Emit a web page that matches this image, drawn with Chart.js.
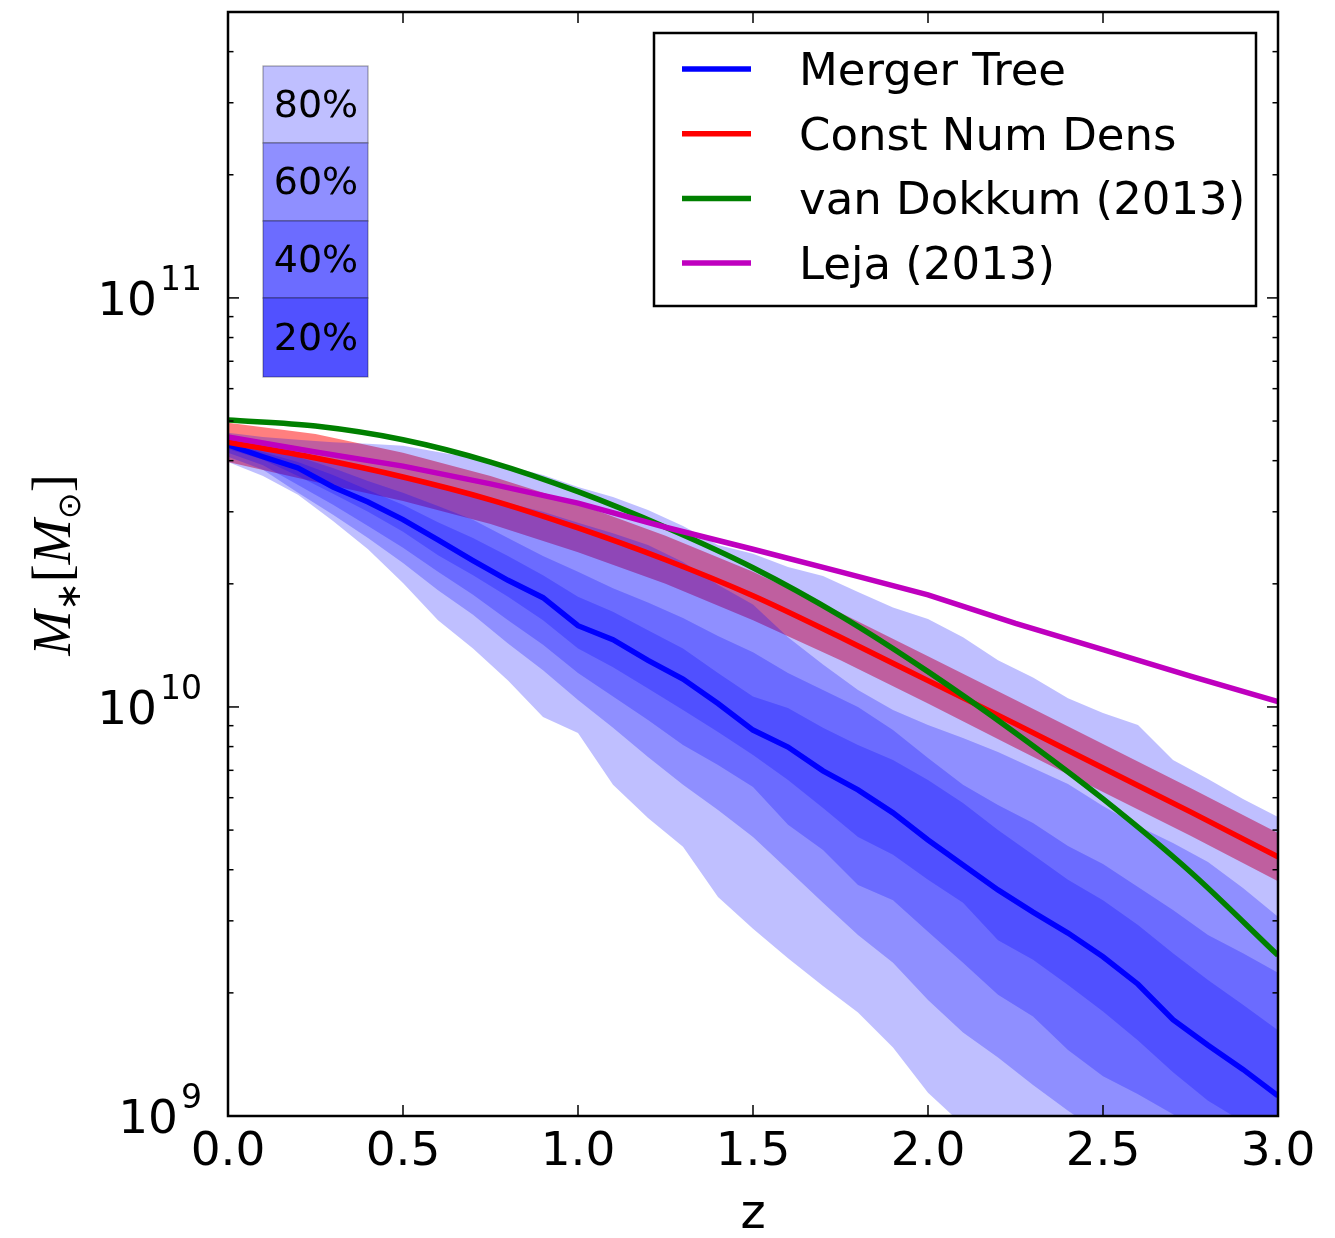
<!DOCTYPE html>
<html>
<head>
<meta charset="utf-8">
<title>Stellar mass growth of progenitors</title>
<script src="https://cdn.jsdelivr.net/npm/chart.js@4.4.0/dist/chart.umd.min.js"></script>
<style>
  html, body { margin: 0; padding: 0; background: #fff; }
  canvas { display: block; }
</style>
</head>
<body>
<canvas id="chart" width="1335" height="1238"></canvas>
<script>
// all masses in units of 1e10 Msun
const zBand = [0.0, 0.1, 0.2, 0.3, 0.4, 0.5, 0.6, 0.7, 0.8, 0.9, 1.0, 1.1, 1.2, 1.3, 1.4, 1.5,
               1.6, 1.7, 1.8, 1.9, 2.0, 2.1, 2.2, 2.3, 2.4, 2.5, 2.6, 2.7, 2.8, 2.9, 3.0];
const zLine = [0.0, 0.25, 0.5, 0.75, 1.0, 1.25, 1.5, 1.75, 2.0, 2.25, 2.5, 2.75, 3.0];

// merger tree percentiles (on zBand)
const p90 = [4.68, 4.57, 4.50, 4.44, 4.40, 4.35, 4.20, 4.06, 3.88, 3.69, 3.45, 3.26, 3.03, 2.77, 2.49, 2.37,
             2.20, 2.09, 1.91, 1.75, 1.64, 1.48, 1.30, 1.18, 1.05, 0.967, 0.904, 0.742, 0.667, 0.596, 0.538];
const p80 = [4.60, 4.40, 4.20, 4.00, 3.80, 3.63, 3.45, 3.32, 3.15, 3.00, 2.82, 2.66, 2.49, 2.26, 1.99, 1.78,
             1.48, 1.27, 1.10, 0.983, 0.904, 0.840, 0.776, 0.709, 0.648, 0.573, 0.512, 0.465, 0.418, 0.361, 0.307];
const p70 = [4.52, 4.30, 4.09, 3.84, 3.57, 3.34, 3.10, 2.87, 2.59, 2.34, 2.14, 1.95, 1.80, 1.65, 1.49, 1.36,
             1.21, 1.10, 1.00, 0.878, 0.750, 0.645, 0.576, 0.520, 0.457, 0.413, 0.363, 0.319, 0.277, 0.250, 0.224];
const p60 = [4.44, 4.20, 3.97, 3.69, 3.39, 3.12, 2.83, 2.59, 2.34, 2.10, 1.86, 1.71, 1.54, 1.39, 1.21, 1.06,
             0.994, 0.889, 0.807, 0.742, 0.663, 0.582, 0.500, 0.435, 0.378, 0.337, 0.293, 0.250, 0.215, 0.187, 0.162];
const median = [4.37, 4.09, 3.84, 3.45, 3.17, 2.87, 2.56, 2.28, 2.04, 1.85, 1.58, 1.46, 1.30, 1.17, 1.02, 0.878,
                0.798, 0.698, 0.627, 0.551, 0.473, 0.411, 0.357, 0.315, 0.280, 0.245, 0.210, 0.172, 0.149, 0.130, 0.112];
const p40 = [4.27, 4.02, 3.67, 3.32, 3.00, 2.68, 2.35, 2.10, 1.86, 1.63, 1.39, 1.25, 1.11, 0.983, 0.869, 0.763,
             0.663, 0.566, 0.481, 0.435, 0.378, 0.332, 0.269, 0.241, 0.209, 0.180, 0.153, 0.128, 0.109, 0.0967, 0.0849];
const p30 = [4.18, 3.90, 3.49, 3.12, 2.77, 2.45, 2.14, 1.88, 1.63, 1.42, 1.21, 1.06, 0.929, 0.807, 0.721, 0.637,
             0.515, 0.447, 0.367, 0.337, 0.282, 0.237, 0.198, 0.175, 0.145, 0.125, 0.113, 0.101, 0.0874, 0.0759, 0.0659];
const p20 = [4.09, 3.80, 3.34, 2.95, 2.59, 2.25, 1.93, 1.68, 1.43, 1.23, 1.04, 0.889, 0.755, 0.645, 0.560, 0.481,
             0.400, 0.332, 0.277, 0.237, 0.192, 0.160, 0.139, 0.119, 0.103, 0.0899, 0.0781, 0.0678, 0.0589, 0.0512, 0.0444];
const p10 = [3.97, 3.67, 3.30, 2.85, 2.43, 2.01, 1.63, 1.39, 1.16, 0.945, 0.864, 0.645, 0.535, 0.455, 0.343, 0.287,
             0.243, 0.208, 0.179, 0.147, 0.114, 0.0950, 0.0781, 0.0641, 0.0526, 0.0432, 0.0355, 0.0291, 0.0239, 0.0197, 0.0161];

// other curves (on zLine)
const constNumDens = [4.44, 4.06, 3.65, 3.21, 2.74, 2.29, 1.87, 1.48, 1.16, 0.909, 0.709, 0.554, 0.430];
const constHigh    = [4.95, 4.65, 4.18, 3.67, 3.14, 2.62, 2.14, 1.70, 1.33, 1.04, 0.812, 0.634, 0.492];
const constLow     = [3.97, 3.55, 3.19, 2.80, 2.39, 2.00, 1.63, 1.30, 1.02, 0.794, 0.620, 0.484, 0.375];
const vanDokkum    = [5.03, 4.86, 4.50, 3.97, 3.36, 2.75, 2.19, 1.67, 1.22, 0.864, 0.596, 0.395, 0.247];
const leja         = [4.57, 4.20, 3.88, 3.51, 3.15, 2.75, 2.43, 2.14, 1.88, 1.60, 1.38, 1.19, 1.03];

const xTicks = [0.0, 0.5, 1.0, 1.5, 2.0, 2.5, 3.0];
const yTickExp = [9, 10, 11];
const legendLabels = ['Merger Tree', 'Const Num Dens', 'van Dokkum (2013)', 'Leja (2013)'];
const legendColors = ['#0000ff', '#ff0000', '#008000', '#bf00bf'];
const bandLabels = ['80%', '60%', '40%', '20%'];

const pts = (zs, vals) => zs.map((z, i) => ({ x: z, y: vals[i] * 1e10 }));
const bandFill = 'rgba(0,0,255,0.25)';

function lineSet(label, zs, vals, color, smooth) {
  return {
    label: label, data: pts(zs, vals), borderColor: color, borderWidth: 5.5,
    pointRadius: 0, fill: false, clip: 0,
    cubicInterpolationMode: smooth ? 'monotone' : 'default', tension: 0
  };
}
function edgeSet(zs, vals, fillColor) {
  return {
    data: pts(zs, vals), borderWidth: 0, pointRadius: 0, clip: 0, tension: 0,
    borderColor: 'rgba(0,0,0,0)', backgroundColor: fillColor || 'rgba(0,0,0,0)',
    fill: fillColor ? '+1' : false
  };
}

// dataset 0 is drawn on top
const datasets = [
  lineSet('Leja (2013)', zLine, leja, '#bf00bf', false),
  lineSet('van Dokkum (2013)', zLine, vanDokkum, '#008000', true),
  lineSet('Const Num Dens', zLine, constNumDens, '#ff0000', true),
  lineSet('Merger Tree', zBand, median, '#0000ff', false),
  edgeSet(zBand, p60, bandFill), edgeSet(zBand, p40),
  edgeSet(zBand, p70, bandFill), edgeSet(zBand, p30),
  edgeSet(zBand, p80, bandFill), edgeSet(zBand, p20),
  edgeSet(zBand, p90, bandFill), edgeSet(zBand, p10),
  edgeSet(zLine, constHigh, 'rgba(255,0,0,0.5)'), edgeSet(zLine, constLow)
];

const axesPlugin = {
  id: 'mplAxes',
  afterDraw(chart) {
    const { ctx, chartArea: a, scales: { x, y } } = chart;
    ctx.save();

    // tick marks, pointing inwards on all four sides
    ctx.strokeStyle = '#000';
    ctx.lineWidth = 1.5;
    const seg = (x1, y1, x2, y2) => { ctx.beginPath(); ctx.moveTo(x1, y1); ctx.lineTo(x2, y2); ctx.stroke(); };
    xTicks.forEach(v => {
      const px = x.getPixelForValue(v);
      seg(px, a.bottom, px, a.bottom - 11);
      seg(px, a.top, px, a.top + 11);
    });
    yTickExp.forEach(e => {
      for (let m = 1; m <= 9; m++) {
        const v = m * Math.pow(10, e);
        if (v < y.min || v > y.max) continue;
        const py = y.getPixelForValue(v);
        const len = m === 1 ? 11 : 5.5;
        seg(a.left, py, a.left + len, py);
        seg(a.right, py, a.right - len, py);
      }
    });

    // frame
    ctx.lineWidth = 2.5;
    ctx.strokeRect(a.left, a.top, a.right - a.left, a.bottom - a.top);

    // x tick labels
    ctx.fillStyle = '#000';
    ctx.font = '47px "DejaVu Sans"';
    ctx.textAlign = 'center';
    ctx.textBaseline = 'alphabetic';
    xTicks.forEach(v => ctx.fillText(v.toFixed(1), x.getPixelForValue(v), a.bottom + 49));
    ctx.font = '48px "DejaVu Sans"';
    ctx.fillText('z', (a.left + a.right) / 2, 1228);

    // y tick labels 10^n
    ctx.textAlign = 'right';
    yTickExp.forEach(e => {
      const py = y.getPixelForValue(Math.pow(10, e));
      ctx.font = '33px "DejaVu Sans"';
      const sup = String(e);
      const supW = ctx.measureText(sup).width;
      ctx.fillText(sup, 202, py - 8);
      ctx.font = '47px "DejaVu Sans"';
      ctx.fillText('10', 202 - supW - 3, py + 17);
    });

    // y axis title M_*[M_sun]
    ctx.save();
    ctx.translate(70, 565);
    ctx.rotate(-Math.PI / 2);
    const parts = [
      { t: 'M', f: 'italic 54px "Liberation Serif", "DejaVu Serif"', dy: 0 },
      { t: '\u2217', f: '34px "DejaVu Sans"', dy: 10 },
      { t: '[', f: '54px "Liberation Serif", "DejaVu Serif"', dy: 0 },
      { t: 'M', f: 'italic 54px "Liberation Serif", "DejaVu Serif"', dy: 0 },
      { t: '\u2299', f: '32px "DejaVu Sans"', dy: 10 },
      { t: ']', f: '54px "Liberation Serif", "DejaVu Serif"', dy: 0 }
    ];
    let total = 0;
    parts.forEach(p => { ctx.font = p.f; p.w = ctx.measureText(p.t).width; total += p.w; });
    let cx = -total / 2;
    ctx.textAlign = 'left';
    parts.forEach(p => { ctx.font = p.f; ctx.fillText(p.t, cx, p.dy); cx += p.w; });
    ctx.restore();

    // legend
    ctx.fillStyle = '#fff';
    ctx.fillRect(654, 33, 602, 273);
    ctx.lineWidth = 2.5;
    ctx.strokeStyle = '#000';
    ctx.strokeRect(654, 33, 602, 273);
    ctx.font = '45px "DejaVu Sans"';
    ctx.textAlign = 'left';
    legendLabels.forEach((lab, i) => {
      const ly = 69 + i * 64.7;
      ctx.strokeStyle = legendColors[i];
      ctx.lineWidth = 5.5;
      seg(682, ly, 751, ly);
      ctx.fillStyle = '#000';
      ctx.fillText(lab, 799, ly + 16);
    });

    // percentile key
    const cellTop = [66, 143, 221, 298, 377];
    bandLabels.forEach((lab, i) => {
      const layers = i + 1;
      const c = Math.round(255 * Math.pow(0.75, layers));
      ctx.fillStyle = `rgb(${c},${c},255)`;
      ctx.fillRect(263, cellTop[i], 105, cellTop[i + 1] - cellTop[i]);
      ctx.strokeStyle = 'rgba(0,0,0,0.35)';
      ctx.lineWidth = 1.2;
      ctx.strokeRect(263, cellTop[i], 105, cellTop[i + 1] - cellTop[i]);
      ctx.fillStyle = '#000';
      ctx.font = '38px "DejaVu Sans"';
      ctx.textAlign = 'center';
      ctx.fillText(lab, 316, (cellTop[i] + cellTop[i + 1]) / 2 + 12);
    });

    ctx.restore();
  }
};

new Chart(document.getElementById('chart').getContext('2d'), {
  type: 'line',
  data: { datasets: datasets },
  options: {
    responsive: false,
    animation: false,
    devicePixelRatio: 1,
    layout: { padding: { left: 228, right: 57, top: 12, bottom: 122 } },
    plugins: {
      legend: { display: false },
      tooltip: { enabled: false },
      filler: { propagate: false }
    },
    scales: {
      x: { type: 'linear', min: 0, max: 3, display: false },
      y: { type: 'logarithmic', min: 1e9, max: 5e11, display: false }
    }
  },
  plugins: [axesPlugin]
});
</script>
</body>
</html>
